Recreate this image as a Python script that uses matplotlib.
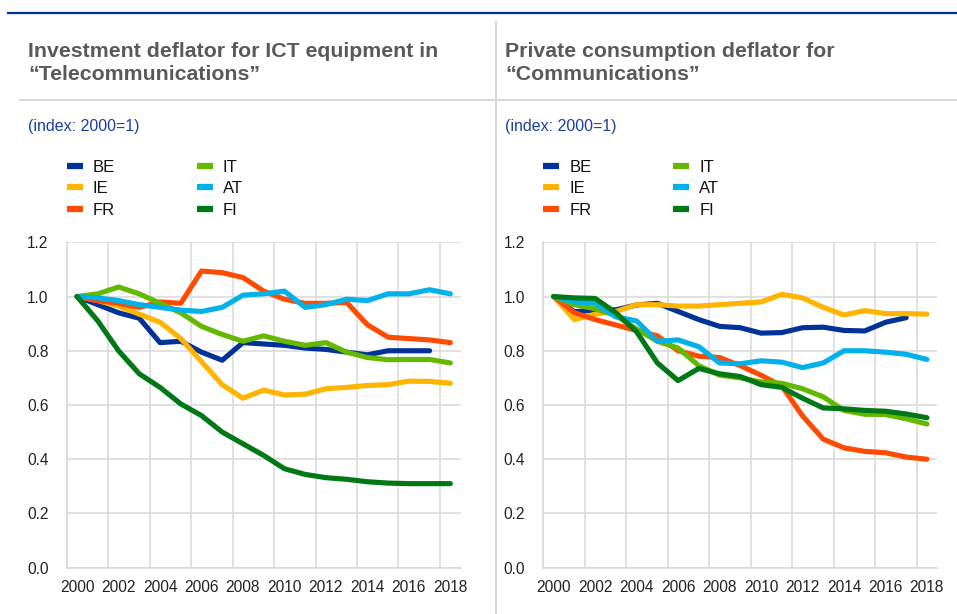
import matplotlib
matplotlib.use("Agg")
import matplotlib.pyplot as plt
import numpy as np
from matplotlib.lines import Line2D

plt.rcParams['font.family'] = ['Liberation Sans', 'DejaVu Sans']

# years on a category axis
years = list(range(2000, 2019))
tick_labels = [str(y) for y in years[::2]]

countries = ["BE", "IE", "FR", "IT", "AT", "FI"]
colors = ["#003299", "#ffb400", "#ff4b00", "#65b800", "#00b1ea", "#007816"]

# left panel: investment deflator for ICT equipment in telecommunications
inv_be = [1.00, 0.97, 0.94, 0.92, 0.83, 0.835, 0.795, 0.765, 0.83, 0.825, 0.82,
          0.81, 0.805, 0.795, 0.785, 0.80, 0.80, 0.80]
inv_ie = [1.00, 0.985, 0.965, 0.935, 0.905, 0.845, 0.76, 0.675, 0.625, 0.655, 0.637,
          0.64, 0.66, 0.665, 0.672, 0.675, 0.688, 0.687, 0.68]
inv_fr = [1.00, 0.985, 0.975, 0.96, 0.98, 0.975, 1.094, 1.088, 1.07, 1.02, 0.99,
          0.975, 0.975, 0.978, 0.896, 0.85, 0.845, 0.84, 0.83]
inv_it = [1.00, 1.01, 1.035, 1.01, 0.975, 0.94, 0.89, 0.86, 0.835, 0.855, 0.835,
          0.82, 0.83, 0.795, 0.775, 0.767, 0.768, 0.768, 0.755]
inv_at = [1.00, 0.995, 0.985, 0.97, 0.96, 0.95, 0.945, 0.96, 1.005, 1.01, 1.02,
          0.96, 0.97, 0.99, 0.985, 1.01, 1.01, 1.025, 1.01]
inv_fi = [1.00, 0.91, 0.80, 0.715, 0.665, 0.604, 0.561, 0.50, 0.457, 0.414, 0.365,
          0.344, 0.332, 0.326, 0.317, 0.312, 0.31, 0.31, 0.31]

# right panel: private consumption deflator for communications
con_be = [1.00, 0.944, 0.95, 0.951, 0.969, 0.975, 0.945, 0.915, 0.89, 0.885, 0.865,
          0.867, 0.885, 0.887, 0.875, 0.873, 0.905, 0.922]
con_ie = [1.00, 0.915, 0.935, 0.945, 0.97, 0.97, 0.965, 0.965, 0.97, 0.975, 0.98,
          1.008, 0.995, 0.96, 0.932, 0.948, 0.937, 0.937, 0.935]
con_fr = [1.00, 0.94, 0.915, 0.895, 0.875, 0.855, 0.80, 0.78, 0.775, 0.745, 0.71,
          0.67, 0.56, 0.474, 0.442, 0.429, 0.424, 0.408, 0.40]
con_it = [1.00, 0.97, 0.955, 0.93, 0.88, 0.835, 0.81, 0.745, 0.71, 0.70, 0.685,
          0.68, 0.66, 0.63, 0.58, 0.566, 0.565, 0.549, 0.53]
con_at = [1.00, 0.98, 0.975, 0.925, 0.91, 0.835, 0.84, 0.815, 0.755, 0.752, 0.763,
          0.758, 0.738, 0.755, 0.80, 0.80, 0.795, 0.787, 0.768]
con_fi = [1.00, 0.995, 0.993, 0.94, 0.87, 0.755, 0.69, 0.735, 0.715, 0.705, 0.675,
          0.665, 0.625, 0.589, 0.586, 0.58, 0.577, 0.567, 0.553]

W, H = 957, 614


def fx(px):
    return px / W


def fy(py):
    return 1 - py / H


def draw_panel(fig, left_px, series, title_lines, title_x, legend_x):
    ax = fig.add_axes([fx(left_px), fy(567.7), 394 / W, 325.4 / H])
    for vals, name, c in zip(series, countries, colors):
        ax.plot(range(len(vals)), vals, color=c, lw=3.7, label=name,
                solid_capstyle='round', solid_joinstyle='round')
    ax.set_xlim(-0.5, 18.5)
    ax.set_ylim(0, 1.2)
    ax.set_yticks(np.arange(0, 1.21, 0.2))
    ax.set_yticklabels(["%.1f" % v for v in np.arange(0, 1.21, 0.2)])
    ax.set_xticks(range(0, 19, 2))
    ax.set_xticklabels(tick_labels)
    ax.set_xticks(np.arange(-0.5, 18, 2), minor=True)
    ax.grid(True, which='major', axis='y', color='#d9d9d9', lw=1.1)
    ax.grid(True, which='minor', axis='x', color='#d9d9d9', lw=1.1)
    ax.set_axisbelow(True)
    for s in ['top', 'right']:
        ax.spines[s].set_visible(False)
    for s in ['left', 'bottom']:
        ax.spines[s].set_color('#d9d9d9')
        ax.spines[s].set_linewidth(1.1)
    ax.tick_params(which='both', length=0, labelsize=11.2, colors='#222222')
    ax.tick_params(axis='y', pad=13)
    ax.tick_params(axis='x', pad=9)

    fig.text(fx(title_x), fy(56.7), title_lines[0], fontsize=15.3,
             fontweight='bold', color='#595959', va='baseline')
    fig.text(fx(title_x), fy(80), title_lines[1], fontsize=15.3,
             fontweight='bold', color='#595959', va='baseline')
    fig.text(fx(title_x), fy(131), "(index: 2000=1)", fontsize=11.5,
             color='#1a3fa0', va='baseline')

    leg = ax.legend(loc='upper left', bbox_to_anchor=(fx(legend_x), fy(159.5)),
                    bbox_transform=fig.transFigure, ncol=2, frameon=False,
                    fontsize=12, handlelength=0.96, handletextpad=0.6,
                    columnspacing=4.9, labelspacing=0.4, borderpad=0,
                    borderaxespad=0)
    for h in leg.legend_handles:
        h.set_linewidth(4.5)
        h.set_solid_capstyle('butt')
    for t in leg.get_texts():
        t.set_color('#111111')
    return ax


fig = plt.figure(figsize=(W / 100, H / 100), dpi=100)

# frame lines
fig.add_artist(Line2D([fx(8), 1], [fy(13), fy(13)], color='#003299', lw=1.6))
fig.add_artist(Line2D([fx(20), 1], [fy(100), fy(100)], color='#d9d9d9', lw=1.5))
fig.add_artist(Line2D([fx(495.7), fx(495.7)], [fy(22), 0], color='#d9d9d9', lw=1.5))

draw_panel(fig, 66.7, [inv_be, inv_ie, inv_fr, inv_it, inv_at, inv_fi],
           ["Investment deflator for ICT equipment in", "\u201cTelecommunications\u201d"],
           28, 67)
draw_panel(fig, 543.3, [con_be, con_ie, con_fr, con_it, con_at, con_fi],
           ["Private consumption deflator for", "\u201cCommunications\u201d"],
           505, 543.3)

fig.savefig("out.png", dpi=100)
